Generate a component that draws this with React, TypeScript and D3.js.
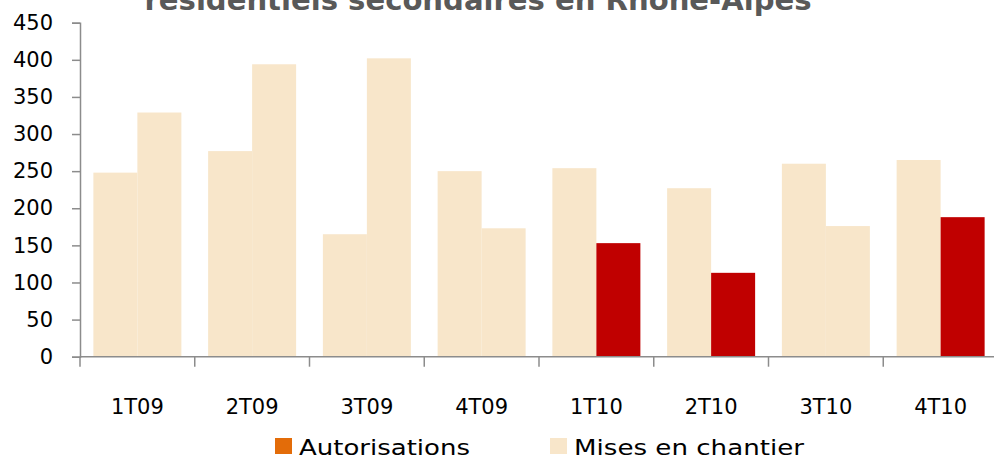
import { useEffect, useRef } from "react";
import * as d3 from "d3";

const categories = ["1T09", "2T09", "3T09", "4T09", "1T10", "2T10", "3T10", "4T10"];
const autorisations = [248, 277, 165, 250, 254, 227, 260, 265];
const misesEnChantier = [329, 394, 402, 173, 153, 113, 176, 188];
// quarters where the second bar is drawn in dark red
const highlighted = ["1T10", "2T10", "4T10"];
const yTicks = [0, 50, 100, 150, 200, 250, 300, 350, 400, 450];
const title = "résidentiels secondaires en Rhône-Alpes";

const BEIGE = "#F8E6CA";
const RED = "#C00000";
const ORANGE = "#E36C09";
const AXIS = "#8C8C8C";
const FONT = "'DejaVu Sans', sans-serif";

export default function App() {
  const svgRef = useRef<SVGSVGElement | null>(null);

  useEffect(() => {
    const svg = d3.select(svgRef.current);
    svg.selectAll("*").remove();

    const left = 80, right = 998, top = 22.7, bottom = 356.7;

    const x0 = d3.scaleBand().domain(categories).range([left, right]);
    const x1 = d3.scaleBand().domain(["a", "m"]).range([0, x0.bandwidth()]).paddingOuter(0.304);
    const y = d3.scaleLinear().domain([0, 450]).range([bottom, top]);

    // title (cut off at the top, as in the source)
    svg.append("text")
      .attr("x", 478).attr("y", 10)
      .attr("text-anchor", "middle")
      .attr("textLength", 667).attr("lengthAdjust", "spacingAndGlyphs")
      .style("font-family", FONT).style("font-size", "28px").style("font-weight", "bold")
      .attr("fill", "#595959")
      .text(title);

    const rows = categories.map((c, i) => ({ c, a: autorisations[i], m: misesEnChantier[i] }));

    const g = svg.append("g");
    g.selectAll(".bar-a").data(rows).enter().append("rect")
      .attr("x", d => x0(d.c)! + x1("a")!)
      .attr("y", d => y(d.a))
      .attr("width", x1.bandwidth())
      .attr("height", d => y(0) - y(d.a))
      .attr("fill", BEIGE);

    g.selectAll(".bar-m").data(rows).enter().append("rect")
      .attr("x", d => x0(d.c)! + x1("m")!)
      .attr("y", d => y(d.m))
      .attr("width", x1.bandwidth())
      .attr("height", d => y(0) - y(d.m))
      .attr("fill", d => highlighted.includes(d.c) ? RED : BEIGE);

    // y axis
    const ya = svg.append("g").attr("transform", `translate(${left},0)`)
      .call(d3.axisLeft(y).tickValues(yTicks).tickSize(8).tickPadding(19));
    ya.select(".domain").attr("stroke", AXIS).attr("stroke-width", 1.5);
    ya.selectAll("line").attr("stroke", AXIS).attr("stroke-width", 1.5);
    ya.selectAll("text").style("font-family", FONT).style("font-size", "21px").attr("fill", "#000");

    // x axis with ticks at category boundaries
    const xa = svg.append("g").attr("transform", `translate(0,${bottom})`);
    xa.append("line").attr("x1", left).attr("x2", right).attr("y1", 0).attr("y2", 0)
      .attr("stroke", AXIS).attr("stroke-width", 1.5);
    xa.selectAll(".tick").data(categories).enter().append("line")
      .attr("x1", d => x0(d)!).attr("x2", d => x0(d)!)
      .attr("y1", 0).attr("y2", 10)
      .attr("stroke", AXIS).attr("stroke-width", 1.5);
    xa.selectAll(".lbl").data(categories).enter().append("text")
      .attr("x", d => x0(d)! + x0.bandwidth() / 2)
      .attr("y", 57)
      .attr("text-anchor", "middle")
      .style("font-family", FONT).style("font-size", "21px").attr("fill", "#000")
      .text(d => d);

    // legend
    const legend = [
      { label: "Autorisations", color: ORANGE, x: 275, w: 171 },
      { label: "Mises en chantier", color: BEIGE, x: 550, w: 230 },
    ];
    const lg = svg.append("g");
    lg.selectAll("rect").data(legend).enter().append("rect")
      .attr("x", d => d.x).attr("y", 438).attr("width", 17).attr("height", 16)
      .attr("fill", d => d.color);
    lg.selectAll("text").data(legend).enter().append("text")
      .attr("x", d => d.x + 24).attr("y", 455)
      .attr("textLength", d => d.w).attr("lengthAdjust", "spacingAndGlyphs")
      .style("font-family", FONT).style("font-size", "22px").attr("fill", "#000")
      .text(d => d.label);
  }, []);

  return (
    <svg
      ref={svgRef}
      width={994}
      height={460}
      style={{ position: "absolute", top: 0, left: 0, background: "#fff" }}
    />
  );
}
